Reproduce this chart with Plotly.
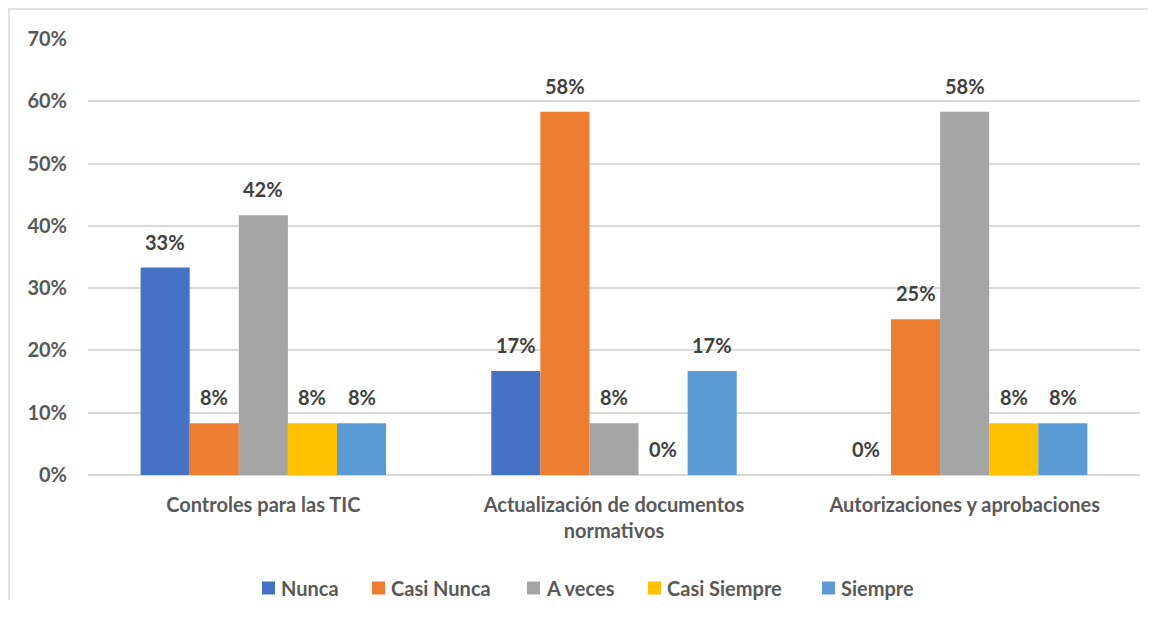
import plotly.graph_objects as go

categorias = ["Controles para las TIC", "Actualización de documentos<br>normativos", "Autorizaciones y aprobaciones"]
series = ["Nunca", "Casi Nunca", "A veces", "Casi Siempre", "Siempre"]
valores = {
    "Nunca": [0.333, 0.167, 0.0],
    "Casi Nunca": [0.083, 0.583, 0.25],
    "A veces": [0.417, 0.083, 0.583],
    "Casi Siempre": [0.083, 0.0, 0.083],
    "Siempre": [0.083, 0.167, 0.083],
}
colores = ["#4472C4", "#ED7D31", "#A5A5A5", "#FFC000", "#5B9BD5"]
ticks = [0, 0.1, 0.2, 0.3, 0.4, 0.5, 0.6, 0.7]

fuente = "Lato"
gris = "#595959"

# geometria (pixeles de la figura)
ancho, alto = 1148, 613
m_l, m_r, m_t, m_b = 80, 16, 31, 146
ancho_plot = ancho - m_l - m_r
alto_plot = alto - m_t - m_b
bargap = 0.30
ancho_barra = ancho_plot / len(categorias) * (1 - bargap) / len(series)


def px_x(px):
    return (px - m_l) / ancho_plot


def px_y(py):
    return (alto - m_b - py) / alto_plot


fig = go.Figure()
anotaciones = []
for i, (nombre, color) in enumerate(zip(series, colores)):
    fig.add_trace(go.Bar(
        name=nombre,
        x=categorias,
        y=valores[nombre],
        marker_color=color,
        marker_line_width=0,
        showlegend=False,
    ))
    for cat, v in zip(categorias, valores[nombre]):
        anotaciones.append(dict(
            x=cat, y=v, xref="x", yref="y",
            text="<b>%d%%</b>" % round(v * 100),
            showarrow=False, yanchor="bottom",
            xshift=(i - (len(series) - 1) / 2) * ancho_barra, yshift=12,
            font=dict(size=20, color="#404040", family=fuente),
        ))

# leyenda dibujada a mano (cuadro + texto)
leyenda_x = [254, 364, 519, 640, 814]
leyenda_y = 580
formas = []
for nombre, color, lx in zip(series, colores, leyenda_x):
    formas.append(dict(
        type="rect", xref="paper", yref="paper",
        x0=px_x(lx), x1=px_x(lx + 13), y0=px_y(leyenda_y + 6.5), y1=px_y(leyenda_y - 6.5),
        fillcolor=color, line_width=0,
    ))
    anotaciones.append(dict(
        x=px_x(lx + 17), y=px_y(leyenda_y), xref="paper", yref="paper",
        text="<b>%s</b>" % nombre, showarrow=False, xanchor="left", yanchor="middle",
        font=dict(size=20, color=gris, family=fuente),
    ))

# borde del grafico
formas.append(dict(type="line", xref="paper", yref="paper",
                   x0=px_x(0), x1=px_x(ancho), y0=px_y(1), y1=px_y(1),
                   line=dict(color="#D9D9D9", width=1.5)))
formas.append(dict(type="line", xref="paper", yref="paper",
                   x0=px_x(1), x1=px_x(1), y0=px_y(1), y1=px_y(592),
                   line=dict(color="#D9D9D9", width=1.5)))

fig.update_layout(
    width=ancho,
    height=alto,
    barmode="group",
    bargap=bargap,
    bargroupgap=0,
    plot_bgcolor="white",
    paper_bgcolor="white",
    margin=dict(l=m_l, r=m_r, t=m_t, b=m_b, pad=0, autoexpand=False),
    font=dict(family=fuente, color=gris),
    showlegend=False,
    xaxis=dict(
        tickvals=categorias,
        ticktext=["<b>%s</b>" % c for c in categorias],
        tickfont=dict(size=20, color=gris, family=fuente),
        showline=False, ticks="", ticklabelstandoff=16,
    ),
    yaxis=dict(
        range=[0, 0.7],
        tickvals=ticks,
        ticktext=["<b>%d%%</b>" % round(t * 100) for t in ticks],
        tickfont=dict(size=20, color=gris, family=fuente),
        showgrid=True, gridcolor="#D9D9D9", gridwidth=1.5,
        zeroline=True, zerolinecolor="#D9D9D9", zerolinewidth=1.5,
        ticklabelstandoff=20,
    ),
    shapes=formas,
    annotations=anotaciones,
)

fig.write_html("out.html")
